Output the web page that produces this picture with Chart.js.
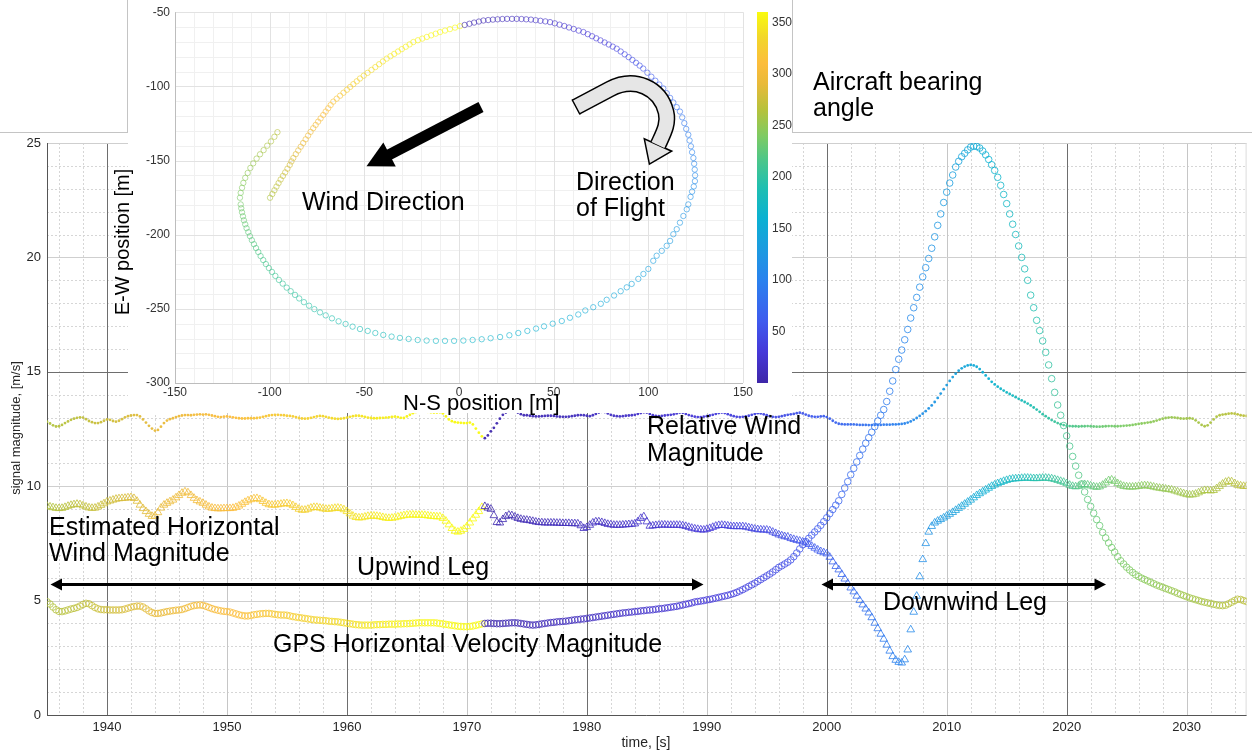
<!DOCTYPE html>
<html>
<head>
<meta charset="utf-8">
<title>Upwind / downwind flight segment: wind and speed magnitudes</title>
<script src="https://cdn.jsdelivr.net/npm/chart.js@4.4.1/dist/chart.umd.min.js"></script>
<style>
  html, body { margin: 0; padding: 0; background: #fff; }
  #stage { position: relative; width: 1252px; height: 752px; overflow: hidden;
           font-family: "Liberation Sans", Arial, Helvetica, sans-serif; }
  #mainCanvas { position: absolute; left: 0; top: 0; }
  #insetBox { position: absolute; left: 128px; top: 0; width: 664px; height: 413px; background: #fff; }
  #insetCanvas { position: absolute; left: 128px; top: 0; }
  #overlay { position: absolute; left: 0; top: 0; }
  .note { position: absolute; color: #000; font-size: 25px; line-height: 26px; white-space: nowrap; }
  .axisTitle { position: absolute; color: #262626; white-space: nowrap; text-align: center; }
</style>
</head>
<body>
<div id="stage">
  <canvas id="mainCanvas" width="1252" height="752"></canvas>
  <div id="insetBox"></div>
  <canvas id="insetCanvas" width="672" height="413"></canvas>

  <svg id="overlay" width="1252" height="752" viewBox="0 0 1252 752">
    <!-- figure frame lines around the inset -->
    <g stroke="#c4c4c4" stroke-width="1" fill="none">
      <line x1="0" y1="132.5" x2="128" y2="132.5"/>
      <line x1="127.5" y1="0" x2="127.5" y2="133"/>
      <line x1="792.5" y1="0" x2="792.5" y2="133"/>
      <line x1="792" y1="132.5" x2="1252" y2="132.5"/>
    </g>
    <!-- leg extents -->
    <g fill="#000" stroke="none">
      <rect x="58" y="583" width="638" height="3"/>
      <polygon points="50.5,584.5 62,578.5 62,590.5"/>
      <polygon points="703.5,584.5 692,578.5 692,590.5"/>
      <rect x="829" y="583" width="270" height="3"/>
      <polygon points="821.5,584.5 833,578.5 833,590.5"/>
      <polygon points="1106,584.5 1094.5,578.5 1094.5,590.5"/>
    </g>
    <!-- wind direction arrow -->
    <g transform="translate(481,107) rotate(152.6)" fill="#000">
      <rect x="0" y="-5.5" width="106" height="11"/>
      <polygon points="103,-13.5 129,0 103,13.5"/>
    </g>
    <!-- direction of flight arrow -->
    <g>
      <path d="M 576,107 L 610,89 C 635,76 660,88 666,112 C 669,124 663,134 658,145"
            fill="none" stroke="#000" stroke-width="17" stroke-linecap="butt"/>
      <polygon points="671.7,151.2 649.4,164.1 644.3,138.8" fill="#e6e6e6" stroke="#000" stroke-width="1.5" stroke-linejoin="miter"/>
      <path d="M 576,107 L 610,89 C 635,76 660,88 666,112 C 669,124 663,134 658,145"
            fill="none" stroke="#e6e6e6" stroke-width="14" stroke-linecap="butt"/>
      <line x1="572" y1="99.5" x2="580" y2="114.5" stroke="#000" stroke-width="1.5"/>
    </g>
  </svg>

  <div class="note" style="left:647px;top:412px;line-height:27px;">Relative Wind<br>Magnitude</div>
  <div class="note" style="left:49px;top:513px;">Estimated Horizontal<br>Wind Magnitude</div>
  <div class="note" style="left:357px;top:553px;">Upwind Leg</div>
  <div class="note" style="left:273px;top:630px;">GPS Horizontal Velocity Magnitude</div>
  <div class="note" style="left:883px;top:588px;">Downwind Leg</div>
  <div class="note" style="left:813px;top:68px;">Aircraft bearing<br>angle</div>
  <div class="note" style="left:302px;top:188px;">Wind Direction</div>
  <div class="note" style="left:576px;top:168px;">Direction<br>of Flight</div>
  <div class="note" style="left:403px;top:392px;font-size:22px;line-height:22px;">N-S position [m]</div>
  <div class="note" style="left:22px;top:232px;width:200px;text-align:center;font-size:20px;line-height:20px;transform:rotate(-90deg);">E-W position [m]</div>

  <div class="axisTitle" style="left:546px;top:734px;width:200px;font-size:14px;line-height:16px;">time, [s]</div>
  <div class="axisTitle" style="left:-94px;top:420px;width:220px;font-size:13px;line-height:16px;transform:rotate(-90deg);">signal magnitude, [m/s]</div>
</div>

<script>
// ---------- time-series samples (0.25 s apart, 1935 s .. 2035 s) ----------
const sampleStart = 1935;
const sampleStep = 0.25;

// Relative wind magnitude [m/s]
const relWind = [
  12.82,12.74,12.66,12.61,12.62,12.68,12.76,12.83,12.90,12.95,12.99,13.01,13.00,12.93,12.85,12.80,12.76,12.76,12.80,12.86,
  12.92,12.90,12.85,12.82,12.86,12.93,13.01,13.06,13.09,13.11,13.11,13.05,12.92,12.78,12.64,12.52,12.43,12.46,12.60,12.76,
  12.87,12.93,12.97,13.02,13.06,13.09,13.11,13.11,13.10,13.12,13.13,13.14,13.13,13.14,13.12,13.09,13.06,13.03,13.02,13.04,
  13.05,13.03,13.01,12.99,12.97,12.96,12.96,12.97,12.97,12.97,12.98,13.00,13.03,13.06,13.09,13.11,13.12,13.12,13.11,13.10,
  13.08,13.07,13.05,13.02,12.98,12.96,12.95,12.96,12.99,13.02,13.05,13.07,13.06,13.03,13.00,12.97,12.95,12.94,12.95,12.97,
  13.00,13.03,13.06,13.08,13.08,13.06,13.03,13.00,12.98,12.97,12.97,12.98,12.99,13.00,13.01,13.03,13.04,13.02,12.99,12.98,
  13.05,13.12,13.19,13.24,13.27,13.28,13.27,13.25,13.23,13.22,13.22,13.23,13.18,13.05,12.92,12.84,12.80,12.78,12.77,12.76,
  12.76,12.78,12.70,12.52,12.34,12.18,12.10,12.22,12.40,12.55,12.75,12.95,13.12,13.22,13.27,13.28,13.26,13.22,13.15,13.10,
  13.10,13.08,13.06,13.05,13.05,13.06,13.07,13.08,13.08,13.07,13.05,13.04,13.03,13.03,13.04,13.06,13.08,13.10,13.11,13.10,
  13.08,13.06,13.10,13.16,13.22,13.25,13.24,13.18,13.12,13.08,13.06,13.05,13.06,13.08,13.09,13.10,13.12,13.16,13.20,13.23,
  13.22,13.16,13.10,13.07,13.06,13.07,13.09,13.11,13.12,13.14,13.18,13.22,13.21,13.16,13.11,13.07,13.04,13.02,13.02,13.04,
  13.06,13.09,13.12,13.16,13.20,13.22,13.20,13.15,13.10,13.06,13.03,13.02,13.03,13.05,13.08,13.12,13.16,13.19,13.18,13.14,
  13.10,13.06,13.03,13.02,13.03,13.06,13.09,13.12,13.14,13.16,13.19,13.21,13.18,13.13,13.08,13.05,13.03,13.03,13.05,13.06,
  13.02,12.95,12.86,12.78,12.73,12.71,12.70,12.70,12.70,12.70,12.69,12.68,12.68,12.68,12.67,12.67,12.67,12.68,12.68,12.69,
  12.69,12.69,12.70,12.70,12.71,12.72,12.74,12.78,12.83,12.90,12.98,13.07,13.17,13.28,13.40,13.53,13.68,13.86,14.05,14.24,
  14.42,14.60,14.77,14.92,15.05,15.15,15.23,15.28,15.30,15.28,15.22,15.12,14.98,14.84,14.70,14.56,14.45,14.35,14.26,14.18,
  14.10,14.03,13.96,13.89,13.82,13.75,13.68,13.61,13.53,13.44,13.35,13.25,13.15,13.06,12.97,12.89,12.82,12.76,12.71,12.67,
  12.64,12.63,12.62,12.62,12.61,12.62,12.62,12.63,12.62,12.61,12.60,12.60,12.61,12.62,12.63,12.63,12.62,12.62,12.63,12.64,
  12.65,12.66,12.68,12.70,12.72,12.74,12.76,12.78,12.80,12.83,12.87,12.91,12.95,12.98,13.00,13.01,13.00,12.98,12.96,12.95,
  12.96,12.97,12.95,12.88,12.78,12.68,12.62,12.66,12.78,12.92,13.04,13.10,13.13,13.15,13.17,13.18,13.17,13.14,13.10,13.08,
  13.07
];

// Estimated horizontal wind magnitude [m/s]
const estWind = [
  9.13,9.10,9.07,9.04,9.03,9.04,9.08,9.13,9.17,9.20,9.22,9.20,9.15,9.10,9.06,9.04,9.05,9.10,9.17,9.24,
  9.32,9.36,9.40,9.44,9.46,9.47,9.48,9.50,9.51,9.47,9.35,9.18,9.03,8.90,8.78,8.69,8.70,8.85,9.05,9.18,
  9.26,9.33,9.40,9.50,9.60,9.70,9.76,9.72,9.60,9.48,9.38,9.32,9.26,9.18,9.10,9.05,9.03,9.02,9.02,9.03,
  9.03,9.03,9.04,9.08,9.14,9.22,9.30,9.37,9.42,9.46,9.47,9.42,9.34,9.26,9.20,9.18,9.18,9.20,9.22,9.24,
  9.25,9.22,9.16,9.08,9.00,8.96,8.96,9.00,9.05,9.08,9.08,9.05,9.02,9.00,9.00,9.02,9.04,9.05,9.03,8.98,
  8.90,8.80,8.70,8.64,8.62,8.63,8.66,8.69,8.70,8.70,8.69,8.67,8.64,8.61,8.60,8.61,8.63,8.66,8.69,8.72,
  8.74,8.75,8.75,8.74,8.74,8.74,8.73,8.71,8.69,8.68,8.67,8.67,8.60,8.48,8.32,8.16,8.04,8.00,8.04,8.12,
  8.24,8.40,8.58,8.74,8.90,9.08,9.12,9.05,9.00,8.72,8.42,8.40,8.55,8.68,8.74,8.72,8.66,8.60,8.56,8.53,
  8.52,8.50,8.47,8.44,8.42,8.41,8.40,8.40,8.40,8.40,8.39,8.39,8.38,8.38,8.38,8.37,8.37,8.36,8.28,8.16,
  8.20,8.30,8.40,8.45,8.45,8.42,8.38,8.34,8.32,8.30,8.30,8.30,8.31,8.32,8.33,8.34,8.36,8.45,8.60,8.67,
  8.45,8.26,8.27,8.29,8.30,8.31,8.31,8.30,8.30,8.30,8.30,8.30,8.28,8.25,8.21,8.17,8.14,8.12,8.10,8.09,
  8.12,8.16,8.21,8.26,8.29,8.30,8.29,8.27,8.25,8.24,8.24,8.24,8.24,8.22,8.19,8.16,8.13,8.11,8.10,8.09,
  8.09,8.06,8.00,7.94,7.88,7.84,7.80,7.78,7.72,7.68,7.64,7.61,7.57,7.52,7.46,7.38,7.30,7.22,7.15,7.10,
  7.05,6.90,6.70,6.50,6.35,6.15,5.95,5.75,5.56,5.39,5.20,5.01,4.82,4.64,4.47,4.26,4.02,3.78,3.54,3.32,
  3.06,2.80,2.56,2.40,2.31,2.28,2.42,2.85,3.73,4.50,5.20,6.05,6.80,7.50,8.00,8.25,8.40,8.48,8.55,8.62,
  8.70,8.78,8.86,8.95,9.04,9.13,9.22,9.31,9.40,9.50,9.60,9.68,9.76,9.84,9.92,10.00,10.06,10.12,10.17,10.22,
  10.26,10.30,10.32,10.33,10.34,10.35,10.36,10.36,10.35,10.34,10.34,10.35,10.36,10.36,10.35,10.33,10.30,10.26,10.22,10.18,
  10.12,10.05,10.00,9.98,10.00,10.05,10.08,10.06,10.02,9.98,9.96,9.98,10.05,10.15,10.25,10.28,10.22,10.12,10.05,10.00,
  9.98,9.97,9.97,9.98,10.00,10.02,10.03,10.02,10.00,9.97,9.94,9.92,9.90,9.88,9.86,9.84,9.80,9.76,9.72,9.68,
  9.64,9.62,9.63,9.66,9.72,9.78,9.82,9.82,9.80,9.82,9.90,10.00,10.10,10.18,10.22,10.20,10.12,10.05,10.02,10.00,
  10.00
];

// GPS horizontal velocity magnitude [m/s]
const gpsSpeed = [
  4.95,4.85,4.72,4.60,4.53,4.52,4.55,4.59,4.63,4.66,4.70,4.76,4.83,4.88,4.86,4.78,4.70,4.64,4.61,4.60,
  4.60,4.59,4.59,4.59,4.59,4.60,4.63,4.67,4.71,4.74,4.76,4.76,4.72,4.64,4.55,4.48,4.44,4.44,4.46,4.49,
  4.52,4.54,4.56,4.58,4.59,4.61,4.65,4.70,4.75,4.78,4.80,4.81,4.79,4.75,4.70,4.65,4.61,4.58,4.55,4.53,
  4.52,4.50,4.46,4.42,4.38,4.35,4.33,4.33,4.35,4.38,4.40,4.42,4.43,4.44,4.44,4.42,4.40,4.38,4.37,4.37,
  4.36,4.33,4.30,4.28,4.26,4.24,4.22,4.20,4.18,4.16,4.15,4.14,4.13,4.12,4.10,4.09,4.08,4.07,4.05,4.03,
  4.01,3.99,3.97,3.95,3.94,3.93,3.93,3.93,3.93,3.94,3.95,3.95,3.96,3.96,3.97,3.97,3.97,3.98,3.98,3.99,
  3.99,4.00,4.01,4.02,4.03,4.03,4.03,4.03,4.03,4.03,4.02,4.00,3.98,3.96,3.94,3.92,3.90,3.88,3.87,3.86,
  3.86,3.87,3.89,3.92,3.95,3.98,4.00,4.01,4.01,4.00,3.99,3.99,4.00,4.01,4.02,4.03,4.03,4.02,4.00,3.98,
  3.96,3.94,3.93,3.94,3.96,3.98,4.00,4.02,4.04,4.05,4.07,4.08,4.09,4.10,4.12,4.14,4.16,4.17,4.19,4.20,
  4.22,4.24,4.26,4.28,4.30,4.32,4.34,4.36,4.38,4.40,4.42,4.44,4.46,4.47,4.49,4.50,4.52,4.53,4.55,4.56,
  4.58,4.59,4.60,4.62,4.64,4.65,4.67,4.69,4.71,4.73,4.75,4.78,4.81,4.84,4.87,4.90,4.94,4.96,4.98,5.00,
  5.03,5.05,5.08,5.11,5.14,5.17,5.20,5.23,5.27,5.31,5.36,5.42,5.48,5.55,5.62,5.69,5.76,5.84,5.92,6.00,
  6.08,6.16,6.25,6.35,6.45,6.52,6.60,6.68,6.78,6.92,7.08,7.26,7.44,7.58,7.72,7.86,8.00,8.14,8.29,8.45,
  8.62,8.80,8.98,9.17,9.36,9.64,9.92,10.20,10.50,10.78,11.06,11.34,11.62,11.88,12.12,12.36,12.60,12.85,13.10,13.35,
  13.70,14.15,14.60,15.10,15.55,15.95,16.40,16.85,17.35,17.80,18.25,18.70,19.15,19.55,19.95,20.40,20.90,21.40,21.90,22.40,
  22.85,23.25,23.60,23.95,24.20,24.40,24.55,24.70,24.82,24.86,24.85,24.78,24.65,24.48,24.28,24.05,23.80,23.50,23.15,22.75,
  22.35,21.90,21.45,21.00,20.50,20.00,19.50,19.00,18.35,17.80,17.25,16.80,16.35,15.85,15.30,14.70,14.10,13.55,13.10,12.65,
  12.20,11.75,11.30,10.88,10.48,10.10,9.75,9.42,9.12,8.82,8.54,8.28,7.98,7.74,7.52,7.32,7.12,6.92,6.74,6.60,
  6.46,6.34,6.23,6.13,6.05,5.98,5.92,5.86,5.80,5.74,5.68,5.63,5.58,5.53,5.48,5.43,5.38,5.32,5.27,5.22,
  5.17,5.12,5.08,5.04,5.00,4.96,4.93,4.90,4.87,4.84,4.81,4.79,4.78,4.80,4.86,4.93,5.00,5.06,5.05,5.00,
  4.96
];

// Aircraft bearing angle [deg] at each sample (drives marker colour)
const bearing = [
  262,263,263,264,265,265,266,267,268,268,269,270,271,271,272,273,274,275,275,276,
  277,278,279,279,280,281,282,283,283,284,285,286,287,287,288,289,290,291,291,292,
  293,294,295,295,296,297,298,298,299,300,301,302,302,303,304,305,306,306,307,308,
  309,310,310,311,312,313,314,314,315,316,317,318,318,319,320,321,322,322,323,324,
  325,326,326,327,328,329,330,330,331,332,333,334,334,335,336,337,338,338,339,340,
  341,342,342,343,344,345,346,346,347,348,349,349,350,351,351,352,353,353,354,354,
  355,355,356,356,356,357,357,357,357,358,358,358,358,358,359,359,359,359,359,359,
  359,359,359,359,360,360,2,3,4,4,5,5,5,6,6,6,7,7,7,8,
  8,8,9,9,9,10,10,10,11,11,11,12,12,12,13,13,13,14,14,14,
  15,15,15,16,16,16,17,17,17,18,18,19,19,19,20,20,21,21,21,22,
  22,23,23,23,24,24,25,25,26,26,26,27,27,28,28,29,29,30,30,31,
  31,32,32,33,33,34,35,35,36,36,37,38,38,39,40,40,41,42,43,43,
  44,45,46,47,47,48,49,50,51,52,53,54,55,56,57,58,59,60,61,63,
  64,65,67,68,69,71,72,74,75,77,78,80,81,83,84,86,87,89,90,92,
  93,95,97,98,100,102,104,106,108,110,112,114,116,118,120,122,124,126,128,130,
  132,134,136,138,140,142,144,146,148,150,152,154,156,158,160,162,164,166,168,170,
  172,174,176,178,180,182,184,186,188,190,192,194,196,198,200,202,204,206,208,210,
  212,214,216,217,219,221,222,224,225,227,228,229,231,232,233,234,235,236,237,238,
  239,240,241,242,243,244,245,246,246,247,248,249,250,250,251,252,253,253,254,255,
  256,256,257,258,258,259,260,260,261,262,262,263,264,264,265,266,266,267,268,268,
  269
];

// ---------- ground track (inset) ----------
// N-S position [m]
const trackNS = [
  // upwind leg, first part
  -99.8,-98.6,-97.5,-96.4,-95.3,-94.2,-93.0,-91.8,-90.6,-89.4,-88.5,-87.5,-86.2,-84.9,-83.6,-82.3,-81.0,-79.7,-78.4,-77.0,
  -75.7,-74.4,-73.1,-71.7,-70.4,-69.1,-67.8,-66.4,-64.6,-62.8,-61.0,-59.2,-57.5,-55.8,-54.0,-52.3,-50.3,-48.3,-46.2,-44.2,
  -42.2,-40.2,-38.2,-36.2,-34.2,-32.2,-30.2,-28.1,-26.1,-24.1,-21.7,-19.4,-17.0,-14.7,-12.3,-10.0,-7.4,-4.8,-2.1,0.5,
  // upwind leg, after the heading wrap, into the turn
  3.0,5.5,8.0,10.5,12.9,15.4,17.9,20.4,22.9,25.4,28.0,30.5,33.0,35.5,38.0,40.5,43.0,45.6,48.1,50.6,
  53.1,55.6,58.1,60.6,63.2,65.7,68.0,70.3,72.5,74.7,76.9,79.1,81.2,83.3,85.4,87.5,89.6,91.6,93.5,95.4,
  97.3,99.5,101.6,103.7,105.8,107.9,109.7,111.5,113.2,115.0,116.7,117.9,119.0,120.0,121.1,121.8,122.5,123.1,123.8,124.2,
  124.5,124.7,124.6,124.0,123.1,122.3,
  // downwind leg
  121.1,120.3,118.5,116.7,115.0,113.2,111.5,109.7,107.1,104.4,102.6,100.0,97.4,94.7,91.2,88.6,85.4,81.9,78.0,74.9,
  70.9,66.7,63.0,58.6,54.3,49.5,44.9,40.7,36.1,31.3,26.6,21.7,16.7,12.0,7.2,2.3,-2.6,
  -7.4,-12.2,-17.1,-21.8,-26.6,-31.2,-35.6,-40.0,-44.2,-48.2,-52.3,-56.2,-59.9,-63.6,-67.1,-70.4,-73.4,-76.4,-79.2,-81.9,
  -84.4,-86.6,-88.9,-91.0,-93.1,-95.1,-97.0,-98.8,-100.4,-102.0,-103.4,-104.8,-106.0,-107.2,-108.3,-109.4,-110.4,-111.3,-112.2,-112.9,
  -113.6,-114.1,-114.6,-115.0,-115.3,
  // turn back upwind
  -115.7,-115.3,-114.6,-113.9,-112.9,-111.6,-110.2,-108.7,-106.9,-105.1,-103.2,-101.3,-99.3,-97.5,-95.9
];
// E-W position [m]
const trackEW = [
  -175.1,-172.6,-170.1,-167.6,-165.2,-162.8,-160.4,-158.0,-155.5,-153.0,-150.6,-148.3,-145.7,-143.2,-140.7,-138.2,-135.7,-133.2,-130.7,-128.2,
  -126.0,-123.8,-121.6,-119.3,-117.0,-114.8,-112.6,-110.3,-108.3,-106.3,-104.3,-102.3,-100.4,-98.5,-96.6,-94.7,-92.8,-90.9,-88.9,-87.0,
  -85.1,-83.2,-81.3,-79.7,-78.1,-76.5,-74.9,-73.3,-71.7,-70.1,-68.9,-67.8,-66.7,-65.6,-64.5,-63.4,-62.4,-61.4,-60.4,-59.4,
  -58.6,-57.8,-57.0,-56.3,-55.6,-55.3,-55.0,-54.8,-54.6,-54.5,-54.5,-54.5,-54.6,-54.8,-55.0,-55.4,-55.8,-56.2,-56.7,-57.5,
  -58.4,-59.3,-60.3,-61.3,-62.4,-63.4,-64.8,-66.2,-67.6,-69.0,-70.4,-71.8,-73.2,-74.6,-76.5,-78.4,-80.3,-82.2,-84.1,-86.0,
  -88.0,-90.8,-93.5,-96.2,-98.8,-101.4,-104.6,-107.8,-110.9,-114.0,-117.0,-120.9,-124.8,-128.7,-132.6,-136.5,-140.4,-144.4,-148.3,-152.2,
  -156.1,-160.0,-163.9,-167.5,-171.0,-174.5,
  -179.6,-182.9,-187.4,-191.9,-196.3,-199.7,-204.2,-207.5,-210.9,-214.2,-217.6,-223.1,-226.5,-229.8,-233.2,-235.5,-238.1,-241.0,-243.9,-246.6,
  -248.9,-251.1,-253.8,-256.0,-258.2,-260.0,-261.8,-263.3,-264.9,-266.3,-267.8,-269.0,-269.8,-270.5,-271.0,-271.4,-271.6,
  -271.6,-271.6,-271.4,-271.0,-270.3,-269.6,-268.7,-267.6,-266.3,-264.9,-263.6,-262.0,-260.2,-258.4,-256.4,-254.4,-252.4,-250.2,-247.9,-245.5,
  -243.0,-240.6,-238.1,-235.7,-233.0,-230.5,-227.8,-225.1,-222.5,-219.8,-217.1,-214.4,-211.7,-209.0,-206.4,-203.7,-201.0,-198.3,-195.6,-193.0,
  -190.3,-187.6,-184.9,-182.2,-179.6,
  -175.1,-171.8,-168.4,-165.1,-161.7,-158.4,-155.0,-151.9,-148.7,-145.8,-143.0,-140.0,-137.1,-134.0,-130.9
];
// bearing angle at each track point [deg]
const trackBearing = [
  262,264,266,268,270,272,274,276,278,280,282,284,286,288,290,292,294,296,298,300,
  302,304,306,308,310,312,314,316,318,320,322,324,326,328,330,332,334,336,338,340,
  342,344,346,348,349,350,351,352,353,354,355,355,356,357,357,358,358,359,359,359,
  3,4,5,6,7,8,9,10,11,12,13,14,15,16,17,18,19,20,21,22,
  23,24,25,26,27,28,29,30,31,32,33,35,37,39,41,43,45,47,49,51,
  53,56,59,62,65,68,71,74,77,80,83,86,89,92,95,97,99,101,103,105,
  107,109,111,113,115,117,
  119,121,123,125,127,128,130,131,133,134,136,137,139,140,142,143,145,146,148,149,
  150,152,153,154,156,157,158,160,161,162,163,165,166,167,168,169,170,
  171,172,174,175,176,178,179,180,182,183,185,186,188,189,191,192,194,195,197,198,
  200,201,203,204,206,207,209,210,212,213,215,216,218,219,221,222,224,225,227,228,
  230,231,233,234,236,
  238,240,242,244,246,248,250,252,254,256,258,260,262,264,266
];

// ---------- axis ticks ----------
const timeTicks = [1940, 1950, 1960, 1970, 1980, 1990, 2000, 2010, 2020, 2030];
const magnitudeTicks = [0, 5, 10, 15, 20, 25];
const nsTicks = [-150, -100, -50, 0, 50, 100, 150];
const ewTicks = [-300, -250, -200, -150, -100, -50];
const bearingTicks = [50, 100, 150, 200, 250, 300, 350];

// ---------- bearing colour scale ----------
const cmapStops = [
  [0,   [62, 38, 168]],
  [30,  [70, 56, 216]],
  [60,  [63, 91, 238]],
  [100, [42, 130, 238]],
  [130, [28, 155, 224]],
  [160, [11, 177, 210]],
  [190, [32, 191, 176]],
  [215, [74, 198, 140]],
  [240, [127, 203, 98]],
  [265, [182, 194, 60]],
  [290, [232, 186, 58]],
  [310, [252, 189, 60]],
  [335, [242, 214, 42]],
  [360, [249, 251, 14]]
];
function cmapRGB(b) {
  const v = Math.max(0, Math.min(360, b));
  for (let i = 1; i < cmapStops.length; i++) {
    const [v1, c1] = cmapStops[i];
    if (v <= v1) {
      const [v0, c0] = cmapStops[i - 1];
      const f = (v - v0) / (v1 - v0);
      return c0.map((c, k) => Math.round(c + (c1[k] - c) * f));
    }
  }
  return cmapStops[cmapStops.length - 1][1];
}
function rgba(b, a) {
  const [r, g, bl] = cmapRGB(b);
  return `rgba(${r},${g},${bl},${a})`;
}

const fontFamily = '"Liberation Sans", Arial, Helvetica, sans-serif';
Chart.defaults.font.family = fontFamily;
Chart.defaults.color = '#262626';

function strokeLine(ctx, x1, y1, x2, y2) {
  ctx.beginPath(); ctx.moveTo(x1, y1); ctx.lineTo(x2, y2); ctx.stroke();
}

// ---------- main chart ----------
const times = relWind.map((_, i) => sampleStart + i * sampleStep);
const asPoints = arr => arr.map((v, i) => ({ x: times[i], y: v }));

const mainGrid = {
  id: 'mainGrid',
  beforeDatasetsDraw(chart) {
    const { ctx, chartArea: a, scales: { x, y } } = chart;
    ctx.save();
    ctx.lineWidth = 1;
    // minor grid: every 2 s and every 1 m/s
    ctx.strokeStyle = '#d6d6d6';
    ctx.setLineDash([2, 2]);
    for (let t = 1936; t < 2035; t += 2) {
      if (t % 10 === 0) continue;
      const px = Math.round(x.getPixelForValue(t)) + 0.5;
      strokeLine(ctx, px, a.top, px, a.bottom);
    }
    for (let v = 1; v < 25; v++) {
      if (v % 5 === 0) continue;
      const py = Math.round(y.getPixelForValue(v)) + 0.5;
      strokeLine(ctx, a.left, py, a.right, py);
    }
    ctx.setLineDash([]);
    // major grid
    timeTicks.forEach(t => {
      ctx.strokeStyle = (t % 20 === 0) ? '#6e6e6e' : '#c6c6c6';
      const px = Math.round(x.getPixelForValue(t)) + 0.5;
      strokeLine(ctx, px, a.top, px, a.bottom);
    });
    magnitudeTicks.forEach(v => {
      if (v === 0) return;
      ctx.strokeStyle = (v === 15) ? '#6e6e6e' : '#cfcfcf';
      const py = Math.round(y.getPixelForValue(v)) + 0.5;
      strokeLine(ctx, a.left, py, a.right, py);
    });
    ctx.strokeStyle = '#dcdcdc';
    strokeLine(ctx, a.right - 0.5, a.top, a.right - 0.5, a.bottom);
    // axes
    ctx.strokeStyle = '#555';
    strokeLine(ctx, a.left + 0.5, a.top, a.left + 0.5, a.bottom);
    strokeLine(ctx, a.left, a.bottom + 0.5, a.right, a.bottom + 0.5);
    ctx.restore();
  }
};

new Chart(document.getElementById('mainCanvas'), {
  type: 'scatter',
  data: {
    datasets: [
      {
        label: 'GPS Horizontal Velocity Magnitude',
        data: asPoints(gpsSpeed),
        pointStyle: 'circle',
        pointRadius: 3.3,
        pointBorderWidth: 1,
        pointBackgroundColor: 'rgba(0,0,0,0)',
        pointBorderColor: bearing.map(b => rgba(b, 0.8))
      },
      {
        label: 'Estimated Horizontal Wind Magnitude',
        data: asPoints(estWind),
        pointStyle: 'triangle',
        pointRadius: 4.4,
        pointBorderWidth: 1,
        pointBackgroundColor: 'rgba(0,0,0,0)',
        pointBorderColor: bearing.map(b => rgba(b, 0.8))
      },
      {
        label: 'Relative Wind Magnitude',
        data: asPoints(relWind),
        pointStyle: 'circle',
        pointRadius: 1.4,
        pointBorderWidth: 0,
        pointBackgroundColor: bearing.map(b => rgba(b, 0.95))
      }
    ]
  },
  options: {
    responsive: false,
    animation: false,
    devicePixelRatio: 1,
    events: [],
    layout: { padding: { left: 0, right: 4, top: 143, bottom: 0 } },
    plugins: { legend: { display: false }, tooltip: { enabled: false } },
    scales: {
      x: {
        type: 'linear', min: 1935, max: 2035,
        grid: { display: false, drawTicks: false },
        border: { display: false },
        ticks: { font: { size: 13 }, color: '#262626', padding: 5, maxRotation: 0, autoSkip: false,
                 callback: v => String(v) },
        afterBuildTicks: s => { s.ticks = timeTicks.map(v => ({ value: v })); },
        afterFit: s => { s.height = 37; }
      },
      y: {
        type: 'linear', min: 0, max: 25,
        grid: { display: false, drawTicks: false },
        border: { display: false },
        ticks: { font: { size: 13 }, color: '#262626', padding: 6, autoSkip: false,
                 callback: v => String(v) },
        afterBuildTicks: s => { s.ticks = magnitudeTicks.map(v => ({ value: v })); },
        afterFit: s => { s.width = 47; }
      }
    }
  },
  plugins: [mainGrid]
});

// ---------- inset: ground track with bearing colour bar ----------
const insetDecor = {
  id: 'insetDecor',
  beforeDatasetsDraw(chart) {
    const { ctx, chartArea: a, scales: { x, y } } = chart;
    ctx.save();
    ctx.lineWidth = 1;
    ctx.strokeStyle = '#f0f0f0';
    for (let v = -140; v < 150; v += 10) {
      if (v % 50 === 0) continue;
      const px = Math.round(x.getPixelForValue(v)) + 0.5;
      strokeLine(ctx, px, a.top, px, a.bottom);
    }
    for (let v = -290; v < -50; v += 10) {
      if (v % 50 === 0) continue;
      const py = Math.round(y.getPixelForValue(v)) + 0.5;
      strokeLine(ctx, a.left, py, a.right, py);
    }
    ctx.strokeStyle = '#e2e2e2';
    nsTicks.forEach(v => {
      const px = Math.round(x.getPixelForValue(v)) + 0.5;
      strokeLine(ctx, px, a.top, px, a.bottom);
    });
    ewTicks.forEach(v => {
      const py = Math.round(y.getPixelForValue(v)) + 0.5;
      strokeLine(ctx, a.left, py, a.right, py);
    });
    ctx.strokeStyle = '#bdbdbd';
    strokeLine(ctx, a.left + 0.5, a.top, a.left + 0.5, a.bottom);
    strokeLine(ctx, a.left, a.bottom + 0.5, a.right, a.bottom + 0.5);
    ctx.restore();
  },
  afterDraw(chart) {
    const { ctx } = chart;
    const cbLeft = 629, cbWidth = 11, cbBottom = 383, cbTop = 12;
    const span = cbBottom - cbTop;
    ctx.save();
    const grad = ctx.createLinearGradient(0, cbBottom, 0, cbTop);
    cmapStops.forEach(([v, c]) => grad.addColorStop(v / 360, `rgb(${c[0]},${c[1]},${c[2]})`));
    ctx.fillStyle = grad;
    ctx.fillRect(cbLeft, cbTop, cbWidth, span);
    ctx.fillStyle = '#333';
    ctx.font = `12px ${fontFamily}`;
    ctx.textAlign = 'left';
    ctx.textBaseline = 'middle';
    bearingTicks.forEach(v => {
      const py = cbBottom - v * span / 360;
      ctx.fillText(String(v), cbLeft + cbWidth + 4, py);
    });
    ctx.restore();
  }
};

new Chart(document.getElementById('insetCanvas'), {
  type: 'scatter',
  data: {
    datasets: [{
      label: 'Ground track',
      data: trackNS.map((v, i) => ({ x: v, y: trackEW[i] })),
      pointStyle: 'circle',
      pointRadius: 2.7,
      pointBorderWidth: 1,
      pointBackgroundColor: 'rgba(0,0,0,0)',
      pointBorderColor: trackBearing.map(b => rgba(b, 0.6))
    }]
  },
  options: {
    responsive: false,
    animation: false,
    devicePixelRatio: 1,
    events: [],
    layout: { padding: { left: 0, right: 57, top: 10, bottom: 0 } },
    plugins: { legend: { display: false }, tooltip: { enabled: false } },
    scales: {
      x: {
        type: 'linear', min: -150, max: 150,
        grid: { display: false, drawTicks: false },
        border: { display: false },
        ticks: { font: { size: 12 }, color: '#333', padding: 2, maxRotation: 0, autoSkip: false,
                 callback: v => String(v) },
        afterBuildTicks: s => { s.ticks = nsTicks.map(v => ({ value: v })); },
        afterFit: s => { s.height = 30; }
      },
      y: {
        type: 'linear', min: -300, max: -50,
        grid: { display: false, drawTicks: false },
        border: { display: false },
        ticks: { font: { size: 12 }, color: '#333', padding: 5, autoSkip: false,
                 callback: v => String(v) },
        afterBuildTicks: s => { s.ticks = ewTicks.map(v => ({ value: v })); },
        afterFit: s => { s.width = 47; }
      }
    }
  },
  plugins: [insetDecor]
});
</script>
</body>
</html>
